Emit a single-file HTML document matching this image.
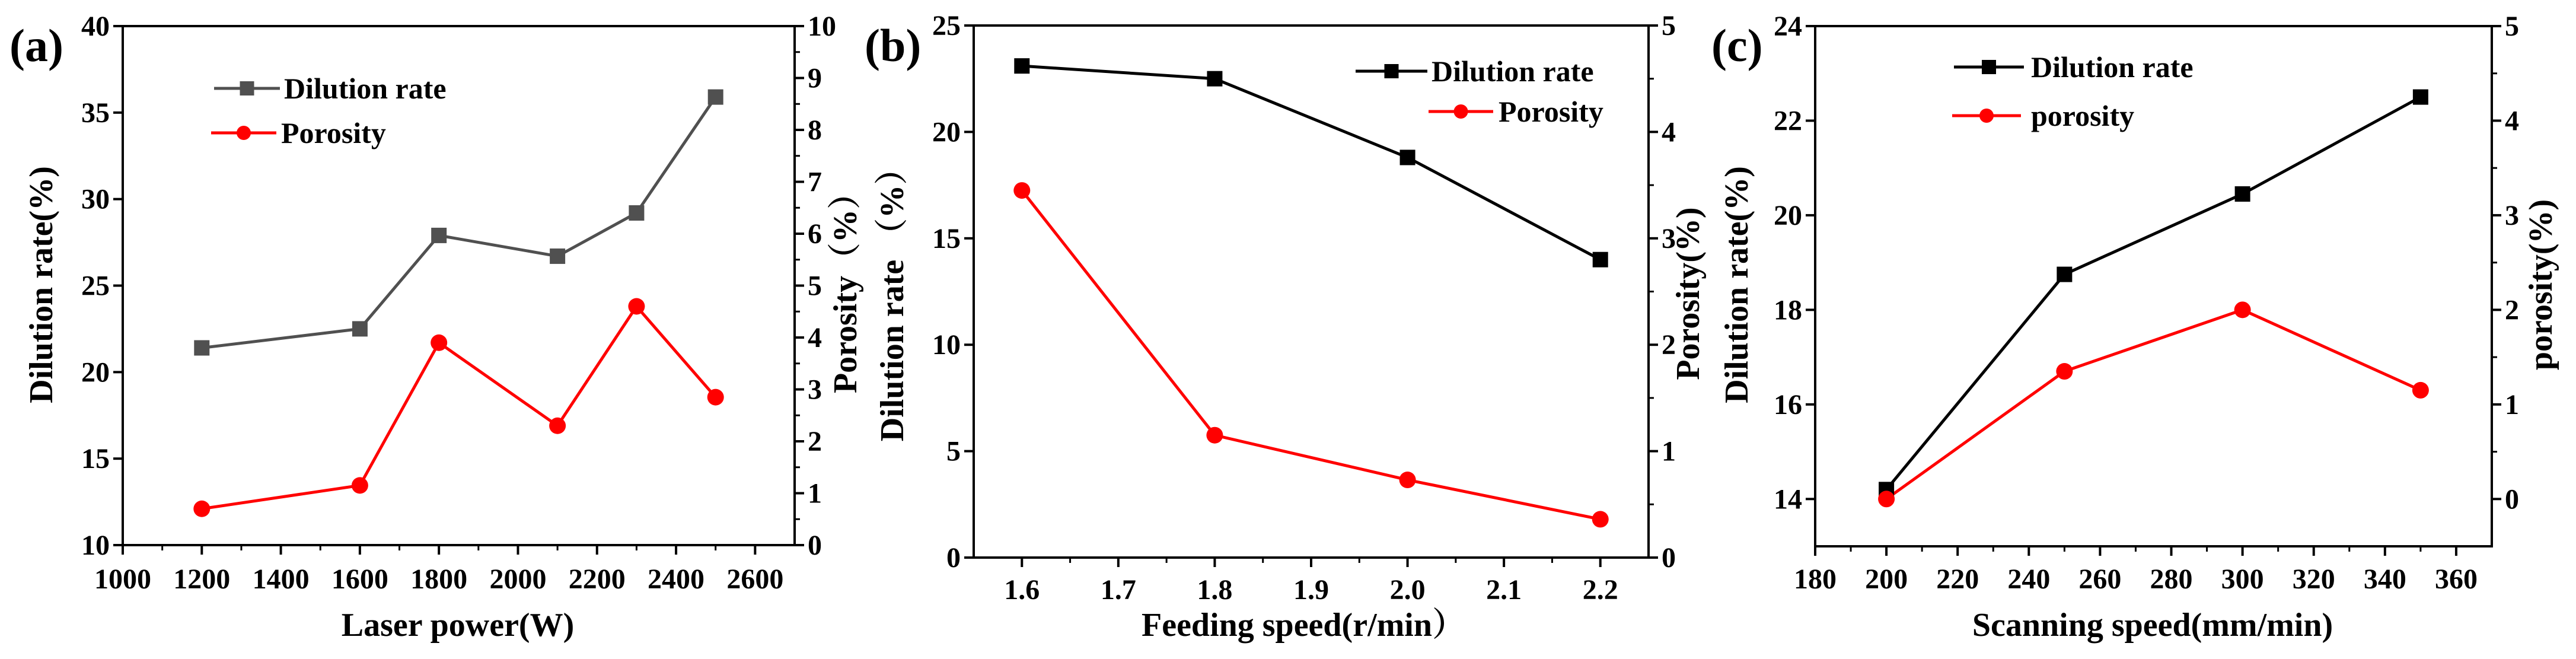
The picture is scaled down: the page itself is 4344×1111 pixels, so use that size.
<!DOCTYPE html>
<html><head><meta charset="utf-8">
<style>
html,body{margin:0;padding:0;background:#fff;}
svg{display:block;}
svg text{font-family:"Liberation Serif","Noto Serif CJK SC",serif !important;font-weight:bold;}
</style></head>
<body>
<svg id="fig" width="4344" height="1111" viewBox="0 0 4344 1111" xmlns="http://www.w3.org/2000/svg" font-family="Liberation Serif, Noto Serif CJK SC, serif" font-weight="bold"></svg>
<script>
// Panel (a)
const aCategories = [1200, 1600, 1800, 2100, 2300, 2500];
const aDilution = [21.4, 22.5, 27.9, 26.7, 29.2, 35.9];
const aPorosity = [0.7, 1.15, 3.9, 2.3, 4.6, 2.85];
const aXTicks = [1000, 1200, 1400, 1600, 1800, 2000, 2200, 2400, 2600];
const aYTicks = [10, 15, 20, 25, 30, 35, 40];
const aY2Ticks = [0, 1, 2, 3, 4, 5, 6, 7, 8, 9, 10];
// Panel (b)
const bCategories = [1.6, 1.8, 2.0, 2.2];
const bDilution = [23.1, 22.5, 18.8, 14.0];
const bPorosity = [3.45, 1.15, 0.73, 0.36];
const bXTicks = [1.6, 1.7, 1.8, 1.9, 2.0, 2.1, 2.2];
const bXTickLabels = ["1.6", "1.7", "1.8", "1.9", "2.0", "2.1", "2.2"];
const bYTicks = [0, 5, 10, 15, 20, 25];
const bY2Ticks = [0, 1, 2, 3, 4, 5];
// Panel (c)
const cCategories = [200, 250, 300, 350];
const cDilution = [14.2, 18.75, 20.45, 22.5];
const cPorosity = [0, 1.35, 2.0, 1.15];
const cXTicks = [180, 200, 220, 240, 260, 280, 300, 320, 340, 360];
const cYTicks = [14, 16, 18, 20, 22, 24];
const cY2Ticks = [0, 1, 2, 3, 4, 5];

const NS = "http://www.w3.org/2000/svg";
const svg = document.getElementById("fig");
function mk(tag, attrs, parent, text) {
  const e = document.createElementNS(NS, tag);
  for (const k in attrs) e.setAttribute(k, attrs[k]);
  if (tag === "text") {
    e.setAttribute("font-family", "Liberation Serif, Noto Serif CJK SC, serif");
    e.setAttribute("font-weight", "bold");
  }
  if (text !== undefined) e.textContent = text;
  (parent || svg).appendChild(e);
  return e;
}

function panel(cfg) {
  const g = mk("g", {});
  
  
  const L = cfg.L, R = cfg.R, T = cfg.T, B = cfg.B;
  const sx = v => L + (v - cfg.xMin) / (cfg.xMax - cfg.xMin) * (R - L);
  const sy = v => B - (v - cfg.yMin) / (cfg.yMax - cfg.yMin) * (B - T);
  const sy2 = v => B - (v - cfg.y2Min) / (cfg.y2Max - cfg.y2Min) * (B - T);
  const frame = mk("rect", {x: L, y: T, width: R - L, height: B - T, fill: "none", stroke: "#000", "stroke-width": 4}, g);
  
  
  cfg.xTicks.forEach((v, i) => {
    const x = sx(v);
    const t = mk("line", {x1: x, x2: x, y1: B, y2: B + 16, stroke: "#000", "stroke-width": 4}, g);
    
    
    if (i < cfg.xTicks.length - 1) {
      const mx = sx((v + cfg.xTicks[i + 1]) / 2);
      const m = mk("line", {x1: mx, x2: mx, y1: B, y2: B + 9, stroke: "#000", "stroke-width": 3}, g);
      
      
    }
    const lb = mk("text", {x: x, y: cfg.xLabelY, "font-size": 48, "text-anchor": "middle"}, g, cfg.xTickLabels ? cfg.xTickLabels[i] : String(v));
    
    
  });
  cfg.yTicks.forEach((v, i) => {
    const y = sy(v);
    const t = mk("line", {x1: L - 16, x2: L, y1: y, y2: y, stroke: "#000", "stroke-width": 4}, g);
    
    
    const lb = mk("text", {x: L - 22, y: y + 16, "font-size": 48, "text-anchor": "end"}, g, String(v));
    
    
  });
  cfg.y2Ticks.forEach((v, i) => {
    const y = sy2(v);
    const t = mk("line", {x1: R, x2: R + 16, y1: y, y2: y, stroke: "#000", "stroke-width": 4}, g);
    
    
    if (i < cfg.y2Ticks.length - 1) {
      const my = sy2((v + cfg.y2Ticks[i + 1]) / 2);
      const m = mk("line", {x1: R, x2: R + 9, y1: my, y2: my, stroke: "#000", "stroke-width": 3}, g);
      
      
    }
    const lb = mk("text", {x: R + 22, y: y + 16, "font-size": 48, "text-anchor": "start"}, g, String(v));
    
    
  });
  const dPts = cfg.cats.map((c, i) => sx(c) + "," + sy(cfg.dil[i])).join(" ");
  const dl = mk("polyline", {points: dPts, fill: "none", stroke: cfg.dColor, "stroke-width": 5}, g);
  
  
  const pPts = cfg.cats.map((c, i) => sx(c) + "," + sy2(cfg.por[i])).join(" ");
  const pl = mk("polyline", {points: pPts, fill: "none", stroke: "#ff0000", "stroke-width": 5}, g);
  
  
  cfg.cats.forEach((c, i) => {
    const s = mk("rect", {x: sx(c) - 13, y: sy(cfg.dil[i]) - 13, width: 26, height: 26, fill: cfg.dColor}, g);
    
    
    const p = mk("circle", {cx: sx(c), cy: sy2(cfg.por[i]), r: 14, fill: "#ff0000"}, g);
    
    
  });
  const lg = mk("g", {}, g);
  
  
  const e1 = mk("g", {}, lg);
  
  
  mk("line", {x1: cfg.lg1[0], x2: cfg.lg1[1], y1: cfg.lg1[2], y2: cfg.lg1[2], stroke: cfg.dColor, "stroke-width": 5}, e1);
  mk("rect", {x: (cfg.lg1[0] + cfg.lg1[1]) / 2 - 12, y: cfg.lg1[2] - 12, width: 24, height: 24, fill: cfg.dColor}, e1);
  mk("text", {x: cfg.lg1[3], y: cfg.lg1[2] + 17, "font-size": 50}, e1, "Dilution rate");
  const e2 = mk("g", {}, lg);
  
  
  mk("line", {x1: cfg.lg2[0], x2: cfg.lg2[1], y1: cfg.lg2[2], y2: cfg.lg2[2], stroke: "#ff0000", "stroke-width": 5}, e2);
  mk("circle", {cx: (cfg.lg2[0] + cfg.lg2[1]) / 2, cy: cfg.lg2[2], r: 12, fill: "#ff0000"}, e2);
  mk("text", {x: cfg.lg2[3], y: cfg.lg2[2] + 17, "font-size": 50}, e2, cfg.porName);
  const xt = mk("text", {x: cfg.xTitle[0], y: cfg.xTitle[1], "font-size": 56, "text-anchor": "middle"}, g, cfg.xTitle[2]);
  
  
  const yt = mk("text", {x: 0, y: 0, "font-size": 56, "text-anchor": "middle", transform: `translate(${cfg.yTitle[0]},${cfg.yTitle[1]}) rotate(-90)`}, g, cfg.yTitle[2]);
  
  
  const y2t = mk("text", {x: 0, y: 0, "font-size": 56, "text-anchor": "middle", transform: `translate(${cfg.y2Title[0]},${cfg.y2Title[1]}) rotate(-90)`}, g, cfg.y2Title[2]);
  
  
  const pl2 = mk("text", {x: cfg.label[0], y: cfg.label[1], "font-size": 78}, g, cfg.label[2]);
  
  
}

panel({id: "a", L: 207, R: 1340, T: 44, B: 919,
  xMin: 1000, xMax: 2700, yMin: 10, yMax: 40, y2Min: 0, y2Max: 10,
  xTicks: aXTicks, yTicks: aYTicks, y2Ticks: aY2Ticks, xLabelY: 992,
  cats: aCategories, dil: aDilution, por: aPorosity, dColor: "#505050",
  lg1: [361, 472, 149, 479], lg2: [356, 466, 224, 474], porName: "Porosity",
  xTitle: [772, 1072, "Laser power(W)"], yTitle: [88, 480, "Dilution rate(%)"],
  y2Title: [1444, 480, "Porosity（%）"], label: [16, 103, "(a)"]});

panel({id: "b", L: 1642, R: 2780, T: 43, B: 940,
  xMin: 1.55, xMax: 2.25, yMin: 0, yMax: 25, y2Min: 0, y2Max: 5,
  xTicks: bXTicks, xTickLabels: bXTickLabels, yTicks: bYTicks, y2Ticks: bY2Ticks, xLabelY: 1010,
  cats: bCategories, dil: bDilution, por: bPorosity, dColor: "#000",
  lg1: [2286, 2407, 120, 2414], lg2: [2409, 2518, 188, 2527], porName: "Porosity",
  xTitle: [2198, 1072, "Feeding speed(r/min）"], yTitle: [1523, 500, "Dilution rate （%）"],
  y2Title: [2865, 495, "Porosity(%)"], label: [1458, 103, "(b)"]});

panel({id: "c", L: 3061, R: 4202, T: 44, B: 921,
  xMin: 180, xMax: 370, yMin: 13, yMax: 24, y2Min: -0.5, y2Max: 5,
  xTicks: cXTicks, yTicks: cYTicks, y2Ticks: cY2Ticks, xLabelY: 992,
  cats: cCategories, dil: cDilution, por: cPorosity, dColor: "#000",
  lg1: [3295, 3413, 113, 3425], lg2: [3292, 3408, 195, 3425], porName: "porosity",
  xTitle: [3630, 1072, "Scanning speed(mm/min)"], yTitle: [2947, 480, "Dilution rate(%)"],
  y2Title: [4303, 480, "porosity(%)"], label: [2886, 103, "(c)"]});
</script>
</body></html>
